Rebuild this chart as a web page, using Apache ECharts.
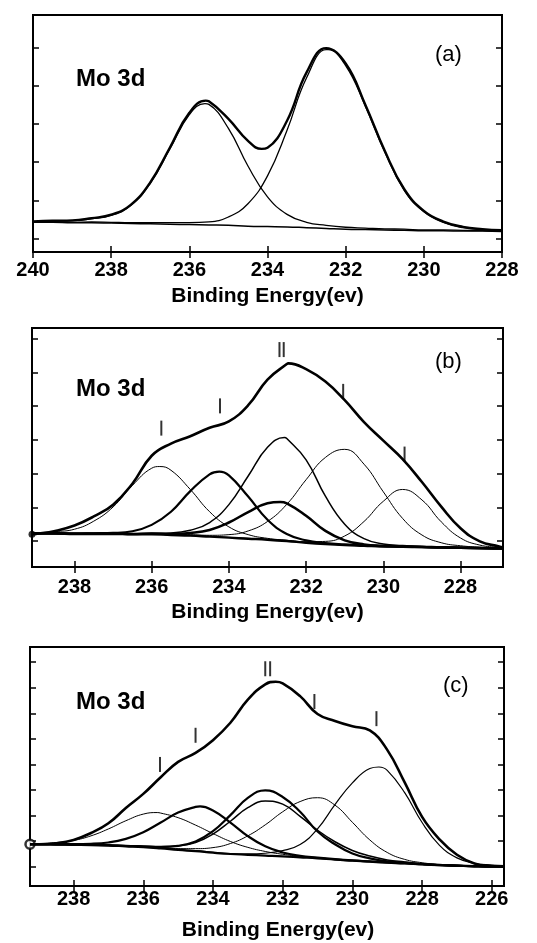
<!DOCTYPE html>
<html>
<head>
<meta charset="utf-8">
<script src="https://cdn.jsdelivr.net/npm/echarts@6/dist/echarts.min.js"></script>
<style>
  html, body { margin: 0; padding: 0; background: #fff; }
  #chart { width: 537px; height: 943px; }
</style>
</head>
<body>
<div id="chart"></div>
<script>
// ---- panel (a) ----
const energyA = [240, 239.5, 239, 238.5, 238, 237.5, 237, 236.5, 236, 235.5, 235, 234.5, 234,
  233.5, 233, 232.5, 232, 231.5, 231, 230.5, 230, 229.5, 229, 228.5, 228];
const baselineA = [0.78, 0.78, 0.77, 0.77, 0.76, 0.75, 0.74, 0.73, 0.72, 0.71, 0.70, 0.68, 0.67,
  0.66, 0.64, 0.62, 0.60, 0.59, 0.58, 0.57, 0.56, 0.56, 0.55, 0.55, 0.54];
// component heights above the baseline
const peakA1 = [0.01, 0.03, 0.05, 0.10, 0.20, 0.47, 1.06, 1.97, 2.89, 3.17, 2.55, 1.58, 0.78,
  0.33, 0.14, 0.08, 0.05, 0.04, 0.03, 0.03, 0.02, 0.02, 0.02, 0.01, 0.01];
const peakA2 = [0.01, 0.01, 0.01, 0.02, 0.02, 0.02, 0.03, 0.04, 0.05, 0.08, 0.22, 0.59, 1.33,
  2.54, 3.94, 4.70, 4.30, 3.25, 2.05, 1.05, 0.50, 0.22, 0.09, 0.04, 0.02];
const envelopeA = [0.80, 0.82, 0.83, 0.89, 0.98, 1.24, 1.83, 2.74, 3.66, 3.96, 3.50, 2.92, 2.74,
  3.45, 4.72, 5.36, 4.96, 3.88, 2.66, 1.65, 1.08, 0.80, 0.66, 0.60, 0.57];
// peak tops and the valley (energy, intensity), read where they fall between grid points
const topA1 = [235.6, 3.90];
const topA2 = [232.45, 5.32];
const topEnvA = [235.58, 3.98];
const valleyEnvA = [234.15, 2.71];
const xTicksA = [228, 230, 232, 234, 236, 238, 240];
const yTicksA = [0.36, 1.36, 2.36, 3.36, 4.36, 5.36];

// ---- panel (b) ----
const energyB = [239.1, 239, 238.5, 238, 237.5, 237, 236.5, 236, 235.5, 235, 234.5, 234, 233.5,
  233, 232.5, 232, 231.5, 231, 230.5, 230, 229.5, 229, 228.5, 228, 227.5, 227, 226.9];
const baselineB = [0.99, 0.99, 0.99, 0.98, 0.98, 0.98, 0.97, 0.97, 0.95, 0.93, 0.90, 0.87, 0.84,
  0.81, 0.77, 0.72, 0.68, 0.65, 0.63, 0.61, 0.60, 0.59, 0.58, 0.57, 0.56, 0.55, 0.55];
const peakB1 = [0.03, 0.03, 0.06, 0.14, 0.38, 0.80, 1.45, 1.96, 1.92, 1.37, 0.74, 0.32, 0.12,
  0.04, 0.02, 0.01, 0.01, 0, 0, 0, 0, 0, 0, 0, 0, 0, 0];
const peakB2 = [0.01, 0.01, 0.01, 0.01, 0.02, 0.03, 0.09, 0.28, 0.69, 1.32, 1.85, 1.85, 1.25,
  0.59, 0.21, 0.07, 0.03, 0.02, 0.01, 0.01, 0, 0, 0, 0, 0, 0, 0];
const peakB3 = [0.01, 0.01, 0.01, 0.01, 0.01, 0.02, 0.02, 0.03, 0.06, 0.16, 0.42, 0.98, 1.86,
  2.74, 3.04, 2.46, 1.42, 0.62, 0.21, 0.07, 0.04, 0.02, 0.02, 0.01, 0.01, 0.01, 0.01];
const peakB4 = [0.01, 0.01, 0.01, 0.01, 0.01, 0.01, 0.01, 0.02, 0.03, 0.08, 0.20, 0.45, 0.79,
  1.08, 1.12, 0.80, 0.39, 0.14, 0.04, 0.02, 0.01, 0.01, 0, 0, 0, 0, 0];
const peakB5 = [0.01, 0.01, 0.01, 0.01, 0.01, 0.01, 0.02, 0.02, 0.02, 0.03, 0.04, 0.09, 0.23,
  0.54, 1.09, 1.87, 2.57, 2.84, 2.42, 1.62, 0.84, 0.36, 0.14, 0.06, 0.03, 0.02, 0.02];
const peakB6 = [0, 0, 0, 0, 0, 0, 0, 0, 0, 0, 0.01, 0.01, 0.01,
  0.01, 0.02, 0.03, 0.08, 0.27, 0.72, 1.34, 1.70, 1.40, 0.76, 0.29, 0.09, 0.03, 0.02];
const envelopeB = [0.97, 0.98, 1.07, 1.23, 1.50, 1.85, 2.47, 3.30, 3.66, 3.88, 4.13, 4.32, 4.80,
  5.56, 6.02, 5.87, 5.50, 4.95, 4.30, 3.75, 3.20, 2.52, 1.79, 1.15, 0.76, 0.61, 0.58];
const topB1 = [235.79, 2.98];
const topB2 = [234.25, 2.83];
const topB3 = [232.56, 3.84];
const topB4 = [232.67, 1.93];
const topEnvB = [232.46, 6.04];
const markersB = [[235.75, 4.12], [234.23, 4.78], [232.69, 6.45], [232.58, 6.45], [231.04, 5.21], [229.45, 3.35]];
const xTicksB = [228, 230, 232, 234, 236, 238];
const yTicksB = [0.77, 1.77, 2.77, 3.77, 4.77, 5.77, 6.77];

// ---- panel (c) ----
const energyC = [239.25, 239, 238.5, 238, 237.5, 237, 236.5, 236, 235.5, 235, 234.5, 234, 233.5,
  233, 232.5, 232, 231.5, 231, 230.5, 230, 229.5, 229, 228.5, 228, 227.5, 227, 226.5, 226, 225.65];
const baselineC = [1.63, 1.63, 1.62, 1.61, 1.60, 1.58, 1.55, 1.52, 1.47, 1.41, 1.36, 1.30, 1.25,
  1.22, 1.19, 1.16, 1.12, 1.08, 1.03, 0.99, 0.95, 0.91, 0.88, 0.84, 0.81, 0.79, 0.77, 0.76, 0.76];
const peakC1 = [0.03, 0.03, 0.08, 0.17, 0.36, 0.65, 1.00, 1.29, 1.38, 1.26, 1.02, 0.75, 0.49,
  0.29, 0.16, 0.08, 0.04, 0.03, 0.02, 0.01, 0.01, 0, 0, 0, 0, 0, 0, 0, 0];
const peakC2 = [0.01, 0.01, 0.02, 0.03, 0.05, 0.12, 0.29, 0.58, 1.01, 1.46, 1.73, 1.65, 1.23,
  0.73, 0.36, 0.15, 0.06, 0.03, 0.02, 0.01, 0.01, 0.01, 0.01, 0.01, 0, 0, 0, 0, 0];
const peakC3 = [0.01, 0.01, 0.01, 0.01, 0.01, 0.02, 0.02, 0.03, 0.06, 0.16, 0.38, 0.84, 1.52,
  2.22, 2.55, 2.32, 1.78, 1.05, 0.60, 0.28, 0.13, 0.05, 0.03, 0.02, 0.02, 0.01, 0.01, 0.01, 0.01];
const peakC4 = [0, 0, 0, 0.01, 0.01, 0.01, 0.02, 0.03, 0.06, 0.15, 0.34, 0.73, 1.28,
  1.84, 2.13, 2.04, 1.60, 1.10, 0.70, 0.40, 0.22, 0.11, 0.06, 0.03, 0.02, 0.02, 0.01, 0.01, 0.01];
const peakC5 = [0.01, 0.01, 0.01, 0.01, 0.01, 0.01, 0.02, 0.02, 0.03, 0.05, 0.10, 0.20, 0.41,
  0.74, 1.20, 1.74, 2.18, 2.37, 2.13, 1.50, 0.85, 0.40, 0.16, 0.07, 0.03, 0.02, 0.02, 0.01, 0.01];
const peakC6 = [0.01, 0.01, 0.01, 0.01, 0.01, 0.01, 0.02, 0.02, 0.02, 0.02, 0.02, 0.02, 0.02,
  0.04, 0.09, 0.22, 0.50, 1.15, 2.15, 3.04, 3.64, 3.61, 2.77, 1.64, 0.78, 0.31, 0.12, 0.06, 0.04];
const envelopeC = [1.63, 1.63, 1.67, 1.80, 2.07, 2.45, 3.05, 3.60, 4.25, 4.85, 5.20, 5.70, 6.38,
  7.28, 7.88, 7.92, 7.42, 6.72, 6.45, 6.24, 6.08, 5.32, 4.05, 2.70, 1.82, 1.22, 0.88, 0.78, 0.76];
const topC1 = [235.6, 2.87];
const topC2 = [234.37, 3.11];
const topC6 = [229.24, 4.65];
const topEnvC = [232.2, 7.98];
const markersC = [[235.52, 4.75], [234.5, 5.89], [232.5, 8.49], [232.36, 8.49], [231.09, 7.21], [229.31, 6.54]];
const xTicksC = [226, 228, 230, 232, 234, 236, 238];
const yTicksC = [0.75, 1.75, 2.75, 3.75, 4.75, 5.75, 6.75, 7.75, 8.75];

const font = '"Liberation Sans", Arial, Helvetica, sans-serif';

const panels = [
  { left: 33, right: 35, top: 15, height: 237, xMin: 228, xMax: 240, yMax: 6.23,
    xTicks: xTicksA, yTicks: yTicksA, labelMargin: 8, nameGap: 34, namePad: 0 },
  { left: 32, right: 34, top: 328, height: 239, xMin: 226.9, xMax: 239.1, yMax: 7.09,
    xTicks: xTicksB, yTicks: yTicksB, labelMargin: 10, nameGap: 35, namePad: 0 },
  { left: 30, right: 33, top: 647, height: 239, xMin: 225.65, xMax: 239.25, yMax: 9.34,
    xTicks: xTicksC, yTicks: yTicksC, labelMargin: 3, nameGap: 34, namePad: 22 }
];

// one curve: grid values (+ baseline for the fitted components), plus extra read points
function line(gi, xs, ys, base, width, extra) {
  const pts = xs.map((x, i) => [x, ys[i] + (base ? base[i] : 0)]);
  if (extra) {
    extra.forEach(p => pts.push(p));
    pts.sort((p, q) => q[0] - p[0]);
  }
  return {
    type: 'line',
    xAxisIndex: gi * 2,
    yAxisIndex: gi * 2,
    data: pts,
    symbol: 'none',
    smooth: 0.45,
    silent: true,
    lineStyle: { color: '#000', width: width }
  };
}

function marks(gi, pts) {
  return {
    type: 'scatter',
    xAxisIndex: gi * 2,
    yAxisIndex: gi * 2,
    data: pts,
    symbol: 'rect',
    symbolSize: [2, 15],
    silent: true,
    itemStyle: { color: '#000' }
  };
}

const grids = [], xAxes = [], yAxes = [];
panels.forEach((p, i) => {
  grids.push({ left: p.left, right: p.right, top: p.top, height: p.height,
    show: true, borderColor: '#000', borderWidth: 2 });
  const tick = { inside: true, length: 6, customValues: p.xTicks, lineStyle: { color: '#000', width: 1.5 } };
  xAxes.push({
    gridIndex: i, type: 'value', inverse: true, min: p.xMin, max: p.xMax,
    axisLine: { show: false }, splitLine: { show: false }, axisTick: tick,
    axisLabel: { customValues: p.xTicks, margin: p.labelMargin, color: '#000',
      fontFamily: font, fontWeight: 'bold', fontSize: 20 },
    name: 'Binding Energy(ev)', nameLocation: 'middle', nameGap: p.nameGap,
    nameTextStyle: { color: '#000', fontFamily: font, fontWeight: 'bold', fontSize: 21,
      padding: [0, 0, 0, p.namePad] }
  });
  xAxes.push({
    gridIndex: i, type: 'value', inverse: true, min: p.xMin, max: p.xMax, position: 'top',
    axisLine: { show: false }, splitLine: { show: false }, axisTick: tick,
    axisLabel: { show: false }
  });
  const ytick = { inside: true, length: 6, customValues: p.yTicks, lineStyle: { color: '#000', width: 1.5 } };
  ['left', 'right'].forEach(pos => {
    yAxes.push({
      gridIndex: i, type: 'value', min: 0, max: p.yMax, position: pos,
      axisLine: { show: false }, splitLine: { show: false }, axisTick: ytick,
      axisLabel: { show: false }
    });
  });
});

const series = [
  // (a)
  line(0, energyA, baselineA, null, 1.5),
  line(0, energyA, peakA1, baselineA, 1.3, [topA1]),
  line(0, energyA, peakA2, baselineA, 1.3, [topA2]),
  line(0, energyA, envelopeA, null, 2.4, [topEnvA, valleyEnvA]),
  // (b)
  line(1, energyB, baselineB, null, 2.4),
  line(1, energyB, peakB1, baselineB, 1, [topB1]),
  line(1, energyB, peakB2, baselineB, 2.2, [topB2]),
  line(1, energyB, peakB3, baselineB, 1.5, [topB3]),
  line(1, energyB, peakB4, baselineB, 2.6, [topB4]),
  line(1, energyB, peakB5, baselineB, 1),
  line(1, energyB, peakB6, baselineB, 1),
  line(1, energyB, envelopeB, null, 2.6, [topEnvB]),
  marks(1, markersB),
  { type: 'scatter', xAxisIndex: 2, yAxisIndex: 2, data: [[energyB[0], envelopeB[0]]],
    symbol: 'circle', symbolSize: 7, silent: true, itemStyle: { color: '#000' } },
  // (c)
  line(2, energyC, baselineC, null, 2.2),
  line(2, energyC, peakC1, baselineC, 1, [topC1]),
  line(2, energyC, peakC2, baselineC, 2.2, [topC2]),
  line(2, energyC, peakC3, baselineC, 2.2),
  line(2, energyC, peakC4, baselineC, 1.5),
  line(2, energyC, peakC5, baselineC, 1),
  line(2, energyC, peakC6, baselineC, 1.2, [topC6]),
  line(2, energyC, envelopeC, null, 2.6, [topEnvC]),
  marks(2, markersC),
  { type: 'scatter', xAxisIndex: 4, yAxisIndex: 4, data: [[energyC[0], envelopeC[0]]],
    symbol: 'circle', symbolSize: 9, silent: true,
    itemStyle: { color: '#fff', borderColor: '#000', borderWidth: 2.5 } }
];

const bold = { fontFamily: font, fontWeight: 'bold', fontSize: 24, color: '#000' };
const plain = { fontFamily: font, fontWeight: 'normal', fontSize: 22, color: '#000' };

const chart = echarts.init(document.getElementById('chart'));
chart.setOption({
  animation: false,
  backgroundColor: '#fff',
  title: [
    { text: 'Mo 3d', left: 76, top: 67, padding: 0, textStyle: bold },
    { text: '(a)', left: 435, top: 44, padding: 0, textStyle: plain },
    { text: 'Mo 3d', left: 76, top: 377, padding: 0, textStyle: bold },
    { text: '(b)', left: 435, top: 351, padding: 0, textStyle: plain },
    { text: 'Mo 3d', left: 76, top: 690, padding: 0, textStyle: bold },
    { text: '(c)', left: 443, top: 675, padding: 0, textStyle: plain }
  ],
  grid: grids,
  xAxis: xAxes,
  yAxis: yAxes,
  series: series
});
</script>
</body>
</html>
